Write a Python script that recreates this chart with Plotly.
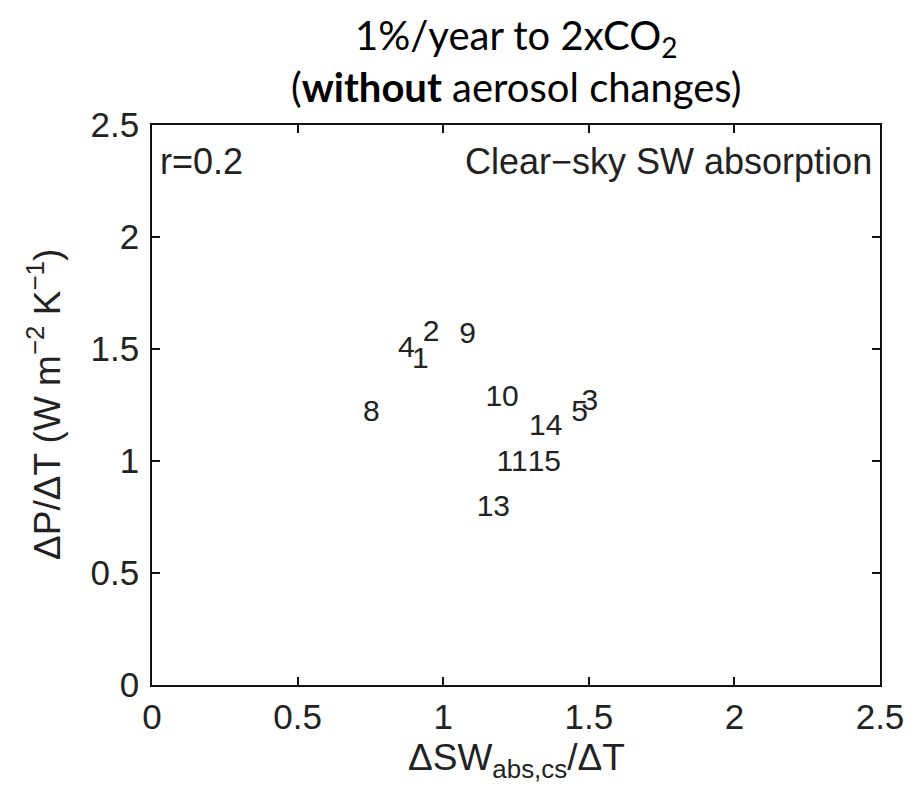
import plotly.graph_objects as go

# Model numbers and their clear-sky SW absorption / precipitation sensitivities
model_ids = ["1", "2", "3", "4", "5", "8", "9", "10", "11", "12", "13", "14", "15"]
sw_abs_cs = [0.893, 0.93, 1.475, 0.845, 1.44, 0.725, 1.055, 1.145, 1.183, -0.065, 1.115, 1.295, 1.29]
dp_dt = [1.45, 1.57, 1.26, 1.50, 1.21, 1.21, 1.56, 1.28, 0.99, 0.71, 0.79, 1.15, 0.99]

x_ticks = [0, 0.5, 1, 1.5, 2, 2.5]
y_ticks = [0, 0.5, 1, 1.5, 2, 2.5]

SANS = "Liberation Sans, Arial, sans-serif"
TITLE_FONT = "Lato, Open Sans, sans-serif"
INK = "#222222"

fig = go.Figure()
fig.add_trace(go.Scatter(
    x=sw_abs_cs, y=dp_dt, text=model_ids,
    mode="text", textposition="middle right",
    textfont=dict(family=SANS, size=30, color=INK),
    cliponaxis=False, showlegend=False, hoverinfo="skip",
))

axis_common = dict(
    range=[0, 2.5], showgrid=False, zeroline=False,
    showline=True, linecolor="#111111", linewidth=1.6, mirror="ticks",
    ticks="inside", ticklen=8, tickwidth=1.6, tickcolor="#111111",
    tickfont=dict(family=SANS, size=35, color=INK),
)

fig.update_xaxes(tickvals=x_ticks, ticktext=[f"{v:g}" for v in x_ticks], **axis_common)
fig.update_yaxes(tickvals=y_ticks, ticktext=[f"{v:g}" for v in y_ticks],
                 ticklabelstandoff=4, **axis_common)

fig.update_layout(
    width=916, height=791,
    margin=dict(l=152, r=31, t=125, b=106),
    paper_bgcolor="white", plot_bgcolor="white",
    annotations=[
        dict(text="1%/year to 2xCO<sub>2</sub>", x=0.5, y=1, xref="paper", yref="paper",
             xanchor="center", yanchor="middle", yshift=88, showarrow=False,
             font=dict(family=TITLE_FONT, size=40, color="black")),
        dict(text="(<b>without</b> aerosol changes)", x=0.5, y=1, xref="paper", yref="paper",
             xanchor="center", yanchor="middle", yshift=38, showarrow=False,
             font=dict(family=TITLE_FONT, size=40, color="black")),
        dict(text="r=0.2", x=0, y=1, xref="paper", yref="paper",
             xanchor="left", yanchor="top", xshift=6, yshift=-14, showarrow=False,
             font=dict(family=SANS, size=36, color=INK)),
        dict(text="Clear\u2212sky SW absorption", x=1, y=1, xref="paper", yref="paper",
             xanchor="right", yanchor="top", xshift=-6, yshift=-14, showarrow=False,
             font=dict(family=SANS, size=36, color=INK)),
        dict(text="\u0394SW<sub>abs,cs</sub>/\u0394T", x=0.5, y=0, xref="paper", yref="paper",
             xanchor="center", yanchor="top", yshift=-50, showarrow=False,
             font=dict(family=SANS, size=37, color=INK)),
        dict(text="\u0394P/\u0394T (W m<sup>\u22122</sup> K<sup>\u22121</sup>)", x=0, y=0.5,
             xref="paper", yref="paper", xanchor="center", yanchor="middle",
             xshift=-108, textangle=-90, showarrow=False,
             font=dict(family=SANS, size=37, color=INK)),
    ],
)

fig.write_html("out.html")
